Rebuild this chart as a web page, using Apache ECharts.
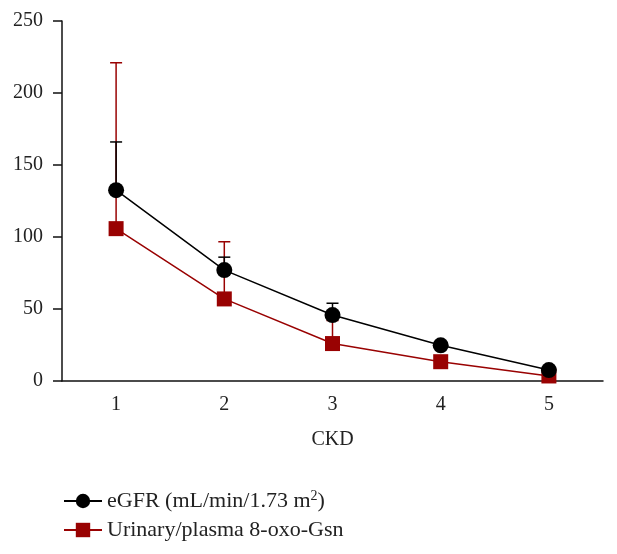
<!DOCTYPE html>
<html>
<head>
<meta charset="utf-8">
<script src="https://cdn.jsdelivr.net/npm/echarts@6/dist/echarts.min.js"></script>
<style>html,body{margin:0;padding:0;background:#fff}#c{width:617px;height:554px}</style>
</head>
<body>
<div id="c"></div>
<script>
const categories = ['1', '2', '3', '4', '5'];
const egfrValues = [132.5, 77, 45.8, 24.8, 7.6];
const egfrUpper = [166, 86, 54, 24.8, 7.6];
const oxoValues = [105.8, 57, 26, 13.4, 3.5];
const oxoUpper = [221, 96.7, 42, 13.4, 3.5];
const yTicks = [0, 50, 100, 150, 200, 250];
const seriesNames = ['eGFR (mL/min/1.73 m2)', 'Urinary/plasma 8-oxo-Gsn'];

const BLACK = '#000000';
const RED = '#990202';
const FONT = 'Liberation Serif';

function errData(vals, up) {
  return vals.map((v, i) => [i, v, up[i]]);
}
function errRender(color) {
  return function (params, api) {
    const i = api.value(0);
    const lo = api.coord([i, api.value(1)]);
    const hi = api.coord([i, api.value(2)]);
    if (Math.abs(hi[1] - lo[1]) < 1) return null;
    const half = 6;
    const style = { stroke: color, lineWidth: 1.5 };
    return {
      type: 'group',
      children: [
        { type: 'line', shape: { x1: lo[0], y1: lo[1], x2: hi[0], y2: hi[1] }, style },
        { type: 'line', shape: { x1: hi[0] - half, y1: hi[1], x2: hi[0] + half, y2: hi[1] }, style }
      ]
    };
  };
}

const chart = echarts.init(document.getElementById('c'), null, { renderer: 'canvas' });
chart.setOption({
  animation: false,
  backgroundColor: '#fff',
  textStyle: { fontFamily: FONT },
  grid: { left: 62, right: 14, top: 21, bottom: 173, containLabel: false },
  legend: {
    orient: 'vertical',
    left: 58,
    top: 484,
    itemWidth: 38,
    itemHeight: 18,
    itemGap: 7,
    formatter: function (name) {
      if (name === seriesNames[0]) return 'eGFR (mL/min/1.73 m{sup|2})';
      return name;
    },
    textStyle: {
      fontFamily: FONT, fontSize: 22, color: '#222',
      rich: { sup: { fontFamily: FONT, fontSize: 14, color: '#222', verticalAlign: 'bottom', padding: [0, 0, 10, 0] } }
    },
    data: seriesNames
  },
  xAxis: {
    type: 'category',
    data: categories,
    boundaryGap: true,
    name: 'CKD',
    nameLocation: 'middle',
    nameGap: 49,
    nameTextStyle: { fontFamily: FONT, fontSize: 20, color: '#222' },
    axisLine: { lineStyle: { color: '#111', width: 1.5 } },
    axisTick: { alignWithLabel: true, length: 9, lineStyle: { color: '#111', width: 1.5 } },
    axisLabel: { fontFamily: FONT, fontSize: 20, color: '#222', margin: 14 },
    splitLine: { show: false }
  },
  yAxis: {
    type: 'value',
    min: 0,
    max: 250,
    interval: 50,
    axisLine: { show: true, lineStyle: { color: '#111', width: 1.5 } },
    axisTick: { show: true, length: 9, lineStyle: { color: '#111', width: 1.5 } },
    axisLabel: { fontFamily: FONT, fontSize: 20, color: '#222', margin: 19,
      formatter: v => yTicks.includes(v) ? String(v) : '' },
    splitLine: { show: false }
  },
  series: [
    {
      name: 'oxoErr', type: 'custom', z: 1,
      renderItem: errRender(RED),
      data: errData(oxoValues, oxoUpper),
      encode: { x: 0, y: [1, 2] }
    },
    {
      name: 'egfrErr', type: 'custom', z: 2,
      renderItem: errRender(BLACK),
      data: errData(egfrValues, egfrUpper),
      encode: { x: 0, y: [1, 2] }
    },
    {
      name: seriesNames[1], type: 'line', z: 3,
      data: oxoValues,
      symbol: 'rect', symbolSize: 15,
      itemStyle: { color: RED },
      lineStyle: { color: RED, width: 1.5 }
    },
    {
      name: seriesNames[0], type: 'line', z: 4,
      data: egfrValues,
      symbol: 'circle', symbolSize: 16,
      itemStyle: { color: BLACK },
      lineStyle: { color: BLACK, width: 1.5 }
    }
  ]
});
</script>
</body>
</html>
